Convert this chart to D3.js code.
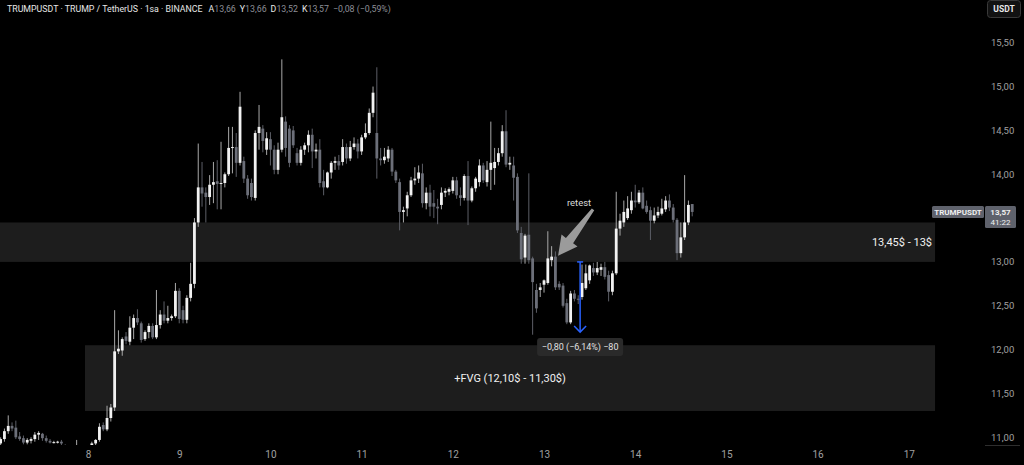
<!DOCTYPE html>
<html>
<head>
<meta charset="utf-8">
<script src="https://cdn.jsdelivr.net/npm/d3@7"></script>
<style>
  body { margin: 0; background: #000; }
  svg { display: block; font-family: Roboto, "Noto Sans", sans-serif; }
</style>
</head>
<body>
<div id="chart"></div>
<script>
var W = 1024, H = 465;
var plotRight = 985, plotBottom = 445;

// 1sa (hourly) candles, first one opens 7th 01:00
var firstOpen = new Date(2025, 2, 7, 1, 0);

var opens = [
  10.93,10.98,11.07,11.13,11.11,11.01,10.99,10.94,10.96,10.98,11.03,11.04,10.99,10.96,10.94,10.94,10.95,10.90,10.86,10.87,10.85,10.88,10.84,10.86,
  10.88,10.93,10.97,11.14,11.09,11.22,11.34,11.98,11.99,12.15,12.09,12.25,12.36,12.30,12.12,12.20,12.27,12.14,12.28,12.40,12.33,12.36,12.38,12.67,
  12.45,12.34,12.59,12.75,13.45,13.85,13.79,13.74,13.88,13.92,13.89,13.90,14.00,14.30,14.31,14.13,14.15,13.95,13.90,13.73,14.47,14.52,14.28,14.40,
  14.28,14.05,14.28,14.60,14.52,14.50,14.24,14.13,14.28,14.33,14.45,14.26,14.28,13.92,13.85,14.02,14.13,14.15,14.14,14.31,14.18,14.31,14.35,14.26,
  14.42,14.47,14.70,14.47,14.18,14.16,14.18,14.28,14.03,13.91,13.57,13.61,13.76,13.93,13.95,14.01,13.67,13.79,13.67,13.63,13.65,13.79,13.80,13.81,
  13.93,13.76,13.73,13.98,13.70,13.84,13.91,14.10,13.91,14.05,14.07,14.14,14.24,14.49,14.11,14.10,13.97,13.33,13.05,13.31,13.04,12.68,12.68,12.74,
  12.76,13.02,13.06,12.75,12.73,12.53,12.31,12.64,12.58,12.60,12.70,12.79,12.93,12.88,12.91,12.94,12.85,12.66,12.87,13.38,13.45,13.50,13.59,13.70,
  13.68,13.79,13.64,13.59,13.47,13.53,13.55,13.60,13.70,13.62,13.48,13.10,13.28,13.45,13.66
];
var highs = [
  11.00,11.10,11.25,11.17,11.19,11.06,11.02,10.99,11.00,11.06,11.07,11.05,11.02,10.98,10.96,10.96,10.97,10.92,10.89,10.90,10.97,10.90,10.88,10.90,
  10.95,10.98,11.16,11.17,11.36,11.38,12.45,12.22,12.14,12.20,12.38,12.40,12.46,12.32,12.22,12.30,12.30,12.68,12.45,12.55,12.50,12.40,12.76,12.70,
  12.50,12.62,12.99,13.50,14.35,14.14,13.85,13.99,14.14,14.16,14.37,14.02,14.54,14.54,14.47,14.94,14.20,13.99,13.95,14.50,14.79,14.56,14.48,14.48,
  14.33,14.36,15.31,14.66,14.56,14.55,14.30,14.32,14.36,14.50,14.52,14.35,14.40,14.05,14.03,14.15,14.20,14.22,14.40,14.35,14.38,14.42,14.40,14.45,
  14.58,14.75,15.00,15.22,14.30,14.30,14.32,14.30,14.05,13.95,13.63,13.80,13.97,14.08,14.10,14.12,13.85,13.88,13.82,13.72,13.85,13.84,13.85,13.97,
  13.97,13.85,14.00,14.15,13.86,13.97,14.17,14.13,14.15,14.60,14.30,14.30,14.56,14.73,14.20,14.20,14.01,13.40,13.32,14.01,13.06,12.75,12.76,12.80,
  13.35,13.18,13.12,12.78,12.76,12.58,12.67,12.68,12.62,12.97,12.97,12.97,12.99,13.00,12.98,13.00,12.90,12.90,13.80,13.55,13.70,13.75,13.80,13.88,
  13.82,13.85,13.70,13.63,13.62,13.63,13.72,13.75,13.77,13.66,13.50,13.45,13.99,13.70,13.66
];
var lows = [
  10.90,10.95,11.04,11.07,10.98,10.96,10.92,10.92,10.93,10.95,10.97,10.96,10.94,10.93,10.93,10.93,10.90,10.84,10.83,10.84,10.84,10.82,10.81,10.84,
  10.85,10.90,10.95,11.07,11.07,11.18,11.30,11.95,11.93,12.06,12.05,12.12,12.28,12.08,12.10,12.13,12.12,12.12,12.24,12.30,12.30,12.33,12.36,12.30,
  12.30,12.30,12.55,12.70,13.40,13.63,13.45,13.65,13.67,13.60,13.60,13.85,13.98,14.01,13.97,14.10,13.90,13.72,13.70,13.70,14.28,14.25,14.22,14.10,
  14.00,14.00,14.25,14.20,14.08,14.30,14.10,14.10,14.22,14.25,14.07,14.18,13.85,13.76,13.84,13.95,14.05,14.05,14.10,14.12,14.15,14.28,14.18,14.22,
  14.40,14.45,14.65,13.95,14.10,14.12,14.14,13.98,13.90,13.36,13.45,13.52,13.74,13.88,13.90,13.62,13.60,13.52,13.50,13.43,13.60,13.74,13.76,13.78,
  13.72,13.64,13.70,13.42,13.68,13.80,13.86,13.90,13.86,13.82,13.88,14.10,14.20,14.08,14.05,13.70,13.33,12.98,12.98,12.98,12.17,12.42,12.60,12.65,
  12.74,12.95,12.68,12.68,12.48,12.29,12.29,12.55,12.52,12.57,12.68,12.75,12.84,12.85,12.84,12.80,12.55,12.62,12.85,13.30,13.40,13.48,13.55,13.62,
  13.66,13.60,13.55,13.25,13.44,13.50,13.53,13.57,13.58,13.45,13.02,13.05,13.25,13.42,13.52
];
var closes = [
  10.98,11.07,11.13,11.10,11.00,10.98,10.94,10.97,10.98,11.03,11.05,10.99,10.96,10.94,10.945,10.95,10.93,10.86,10.87,10.85,10.88,10.84,10.86,10.88,
  10.93,10.97,11.12,11.09,11.22,11.34,11.98,12.01,12.12,12.10,12.25,12.36,12.31,12.11,12.20,12.27,12.14,12.28,12.40,12.33,12.36,12.38,12.67,12.35,
  12.34,12.59,12.75,13.45,13.85,13.78,13.74,13.88,13.91,13.89,13.90,14.00,14.30,14.31,14.13,14.77,13.95,13.76,13.74,14.47,14.54,14.38,14.41,14.28,
  14.05,14.28,14.65,14.30,14.13,14.33,14.13,14.28,14.33,14.45,14.26,14.28,13.90,13.85,14.02,14.13,14.15,14.10,14.31,14.18,14.31,14.35,14.26,14.42,
  14.47,14.70,14.93,14.18,14.16,14.20,14.28,14.03,13.93,13.57,13.59,13.76,13.93,13.95,14.02,13.67,13.79,13.63,13.63,13.61,13.79,13.81,13.83,13.93,
  13.76,13.73,13.98,13.70,13.84,13.95,14.10,13.93,14.05,14.13,14.14,14.24,14.49,14.11,14.13,13.96,13.36,13.03,13.30,13.02,12.77,12.47,12.71,12.79,
  13.04,13.06,12.71,12.71,12.50,12.31,12.64,12.58,12.57,12.76,12.87,12.96,12.88,12.93,12.94,12.83,12.66,12.87,13.38,13.47,13.57,13.61,13.70,13.68,
  13.79,13.61,13.57,13.47,13.53,13.57,13.61,13.70,13.62,13.48,13.10,13.28,13.45,13.65,13.57
];

// 13,50 is hidden behind the last-price label, as on the original scale
var priceTicks = [11, 11.5, 12, 12.5, 13, 14, 14.5, 15, 15.5];

var zones = [
  { from: new Date(2025, 2, 6, 12, 0), to: new Date(2025, 2, 17, 6, 54), top: 13.45, bottom: 13.0, label: "13,45$ - 13$", align: "right" },
  { from: new Date(2025, 2, 7, 23, 12), to: new Date(2025, 2, 17, 6, 54), top: 12.05, bottom: 11.30, label: "+FVG (12,10$ - 11,30$)", align: "middle" }
];

// retest arrow (tail -> tip), measure arrow
var retest = { tail: { t: new Date(2025, 2, 13, 12, 54), p: 13.60 }, tip: { t: new Date(2025, 2, 13, 3, 42), p: 13.07 }, label: "retest" };
var measure = { t: new Date(2025, 2, 13, 9, 30), from: 13.00, to: 12.20, label: "\u22120,80 (\u22126,14%) \u221280" };

var lastPrice = 13.57, countdown = "41:22";

var candles = opens.map(function(o, i) {
  return { t: d3.timeHour.offset(firstOpen, i), o: o, h: highs[i], l: lows[i], c: closes[i] };
});

var x = d3.scaleTime()
  .domain([new Date(2025, 2, 7, 0, 50), new Date(2025, 2, 17, 20, 3)])
  .range([0, plotRight]);
var y = d3.scaleLinear().domain([11, 15.5]).range([437.3, 42.7]);

var loc = d3.formatLocale({ decimal: ",", thousands: ".", grouping: [3], currency: ["", ""], minus: "\u2212" });
var fmt = loc.format(".2f");

var svg = d3.select("#chart").append("svg").attr("width", W).attr("height", H);
svg.append("rect").attr("width", W).attr("height", H).attr("fill", "#000");

svg.append("clipPath").attr("id", "plot")
  .append("rect").attr("x", 0).attr("y", 0).attr("width", plotRight).attr("height", plotBottom);

var g = svg.append("g").attr("clip-path", "url(#plot)");

// zones
g.selectAll(".zone").data(zones).enter().append("rect")
  .attr("class", "zone")
  .attr("x", function(d) { return x(d.from); })
  .attr("width", function(d) { return x(d.to) - x(d.from); })
  .attr("y", function(d) { return y(d.top); })
  .attr("height", function(d) { return y(d.bottom) - y(d.top); })
  .attr("fill", "#1d1d1d");

// candles
var bw = 2.8;
g.selectAll(".wick").data(candles).enter().append("rect")
  .attr("class", "wick")
  .attr("x", function(d) { return x(d.t) - 0.5; })
  .attr("width", 1)
  .attr("y", function(d) { return y(d.h); })
  .attr("height", function(d) { return Math.max(1, y(d.l) - y(d.h)); })
  .attr("fill", function(d) { return d.c >= d.o ? "#a8a8a8" : "#5c5e66"; });

g.selectAll(".body").data(candles).enter().append("rect")
  .attr("class", "body")
  .attr("x", function(d) { return x(d.t) - bw / 2; })
  .attr("width", bw)
  .attr("y", function(d) { return y(Math.max(d.o, d.c)); })
  .attr("height", function(d) { return Math.max(1, Math.abs(y(d.o) - y(d.c))); })
  .attr("fill", function(d) { return d.c >= d.o ? "#f2f2f2" : "#6c6f79"; });

// zone labels
g.selectAll(".zlabel").data(zones).enter().append("text")
  .attr("x", function(d) { return d.align == "right" ? x(d.to) - 3 : (x(d.from) + x(d.to)) / 2; })
  .attr("y", function(d) { return (y(d.top) + y(d.bottom)) / 2; })
  .attr("dy", "0.35em")
  .attr("text-anchor", function(d) { return d.align == "right" ? "end" : "middle"; })
  .attr("fill", "#f0f0f0")
  .attr("font-size", 11)
  .text(function(d) { return d.label; });

// retest arrow
var tx = x(retest.tail.t), ty = y(retest.tail.p), px = x(retest.tip.t), py = y(retest.tip.p);
var len = Math.hypot(px - tx, py - ty), ux = (px - tx) / len, uy = (py - ty) / len, nx = -uy, ny = ux;
var headLen = 19, headHalf = 10, shaftTail = 1.5, shaftHead = 4.5;
var bx = px - ux * headLen, by = py - uy * headLen;
var pts = [
  [tx + nx * shaftTail, ty + ny * shaftTail],
  [bx + nx * shaftHead, by + ny * shaftHead],
  [bx + nx * headHalf, by + ny * headHalf],
  [px, py],
  [bx - nx * headHalf, by - ny * headHalf],
  [bx - nx * shaftHead, by - ny * shaftHead],
  [tx - nx * shaftTail, ty - ny * shaftTail]
];
g.append("polygon").attr("points", pts.map(function(p) { return p.join(","); }).join(" "))
  .attr("fill", "#9b9b9b");
g.append("text").attr("x", tx - 14).attr("y", ty - 3)
  .attr("text-anchor", "middle").attr("fill", "#d8d8d8").attr("font-size", 9.5)
  .text(retest.label);

// measure arrow
var mx = x(measure.t), my1 = y(measure.from), my2 = y(measure.to);
g.append("line").attr("x1", mx).attr("x2", mx).attr("y1", my1).attr("y2", my2)
  .attr("stroke", "#2962ff").attr("stroke-width", 1.5);
g.append("line").attr("x1", mx - 3).attr("x2", mx + 3).attr("y1", my1).attr("y2", my1)
  .attr("stroke", "#2962ff").attr("stroke-width", 1.5);
g.append("path").attr("d", "M" + (mx - 6) + "," + (my2 - 6) + "L" + mx + "," + my2 + "L" + (mx + 6) + "," + (my2 - 6))
  .attr("fill", "none").attr("stroke", "#2962ff").attr("stroke-width", 1.5);
g.append("rect").attr("x", mx - 43).attr("y", my2 + 6).attr("width", 86).attr("height", 18).attr("rx", 3)
  .attr("fill", "#2a2a2a");
g.append("text").attr("x", mx).attr("y", my2 + 15).attr("dy", "0.35em")
  .attr("text-anchor", "middle").attr("fill", "#e0e0e0").attr("font-size", 9)
  .text(measure.label);

// x axis
var xAxis = svg.append("g").attr("transform", "translate(0," + plotBottom + ")")
  .call(d3.axisBottom(x).ticks(d3.timeDay.every(1)).tickFormat(d3.timeFormat("%-d")).tickSize(0).tickPadding(6));
xAxis.select(".domain").remove();
xAxis.selectAll("text").attr("fill", "#a0a0a0").attr("font-size", 10).attr("font-family", "Roboto, sans-serif");

// y axis
var yAxis = svg.append("g").attr("transform", "translate(" + plotRight + ",0)")
  .call(d3.axisRight(y).tickValues(priceTicks).tickFormat(fmt).tickSize(0).tickPadding(6));
yAxis.select(".domain").remove();
yAxis.selectAll("text").attr("fill", "#a0a0a0").attr("font-size", 9.5).attr("font-family", "Roboto, sans-serif");

svg.append("line").attr("x1", plotRight).attr("x2", W - 4).attr("y1", plotBottom + 0.5).attr("y2", plotBottom + 0.5)
  .attr("stroke", "#2e2e2e");

// price labels on the scale
var ly = y(lastPrice);
svg.append("rect").attr("x", 932).attr("y", ly - 6).attr("width", 52).attr("height", 12).attr("rx", 1.5).attr("fill", "#5f626c");
svg.append("text").attr("x", 958).attr("y", ly).attr("dy", "0.35em").attr("text-anchor", "middle")
  .attr("fill", "#f0f0f0").attr("font-size", 8).attr("font-weight", "bold").text("TRUMPUSDT");
svg.append("rect").attr("x", 985).attr("y", ly - 6).attr("width", 31).attr("height", 22).attr("rx", 1.5).attr("fill", "#5f626c");
svg.append("text").attr("x", 1000.5).attr("y", ly).attr("dy", "0.35em").attr("text-anchor", "middle")
  .attr("fill", "#f0f0f0").attr("font-size", 8).attr("font-weight", "bold").text(fmt(lastPrice));
svg.append("text").attr("x", 1000.5).attr("y", ly + 10.5).attr("dy", "0.35em").attr("text-anchor", "middle")
  .attr("fill", "#f0f0f0").attr("font-size", 8).text(countdown);

// USDT box
svg.append("rect").attr("x", 987.5).attr("y", 0.5).attr("width", 33).attr("height", 17).attr("rx", 3)
  .attr("fill", "#121212").attr("stroke", "#3a3a3a");
svg.append("text").attr("x", 1004).attr("y", 9).attr("dy", "0.35em").attr("text-anchor", "middle")
  .attr("fill", "#e8e8e8").attr("font-size", 8.5).attr("font-weight", "bold").text("USDT");

// legend line (change measured from the previous close)
var last = candles[candles.length - 1], prev = candles[candles.length - 2];
var chg = last.c - prev.c;
var title = svg.append("text").attr("x", 7).attr("y", 12).attr("font-size", 8.8).attr("fill", "#e6e6e6");
title.append("tspan").text("TRUMPUSDT \u00b7 TRUMP / TetherUS \u00b7 1sa \u00b7 BINANCE");
[["A", last.o], ["Y", last.h], ["D", last.l], ["K", last.c]].forEach(function(p, i) {
  title.append("tspan").attr("dx", i == 0 ? 6 : 4).attr("fill", "#e6e6e6").text(p[0]);
  title.append("tspan").attr("fill", "#8c8e96").text(fmt(p[1]));
});
title.append("tspan").attr("dx", 4).attr("fill", "#8c8e96")
  .text(fmt(chg) + " (" + fmt(chg / prev.c * 100) + "%)");
</script>
</body>
</html>
